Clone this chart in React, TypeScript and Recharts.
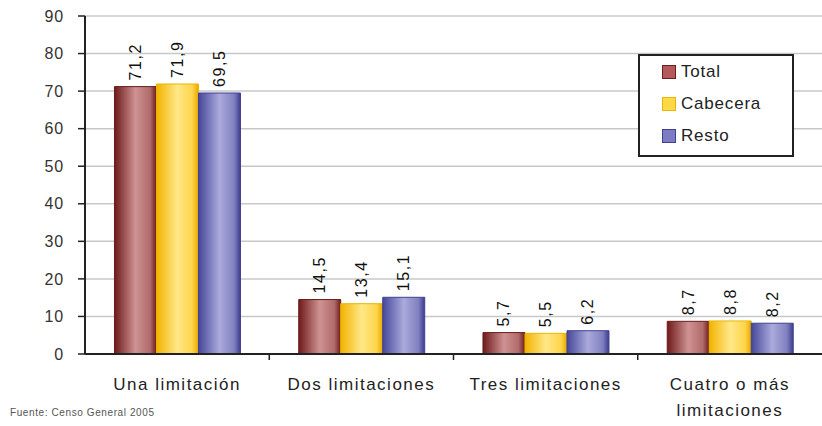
import React from "react";
import {
  BarChart,
  Bar,
  XAxis,
  YAxis,
  CartesianGrid,
  LabelList,
} from "recharts";

const categories = [
  "Una limitación",
  "Dos limitaciones",
  "Tres limitaciones",
  "Cuatro o más limitaciones",
];
const total = [71.2, 14.5, 5.7, 8.7];
const cabecera = [71.9, 13.4, 5.5, 8.8];
const resto = [69.5, 15.1, 6.2, 8.2];
const yTicks = [0, 10, 20, 30, 40, 50, 60, 70, 80, 90];

const series = [
  { key: "total", name: "Total", fill: "url(#gTotal)", swatch: "#b45a5a", stroke: "#6b1c1c" },
  { key: "cabecera", name: "Cabecera", fill: "url(#gCab)", swatch: "#ffd84a", stroke: "#e8b800" },
  { key: "resto", name: "Resto", fill: "url(#gResto)", swatch: "#7c7cc4", stroke: "#404090" },
];

const data = categories.map((name, i) => ({
  name,
  total: total[i],
  cabecera: cabecera[i],
  resto: resto[i],
}));

const font = "Arial, 'Liberation Sans', sans-serif";
const Y_W = 85;

const fmt = (v: number) => v.toFixed(1).replace(".", ",");

// split long category names on words, ~17 chars a line
const wrap = (s: string, max = 17) => {
  const lines: string[] = [];
  let cur = "";
  s.split(" ").forEach((w) => {
    const next = cur ? cur + " " + w : w;
    if (next.length > max && cur) {
      lines.push(cur);
      cur = w;
    } else cur = next;
  });
  if (cur) lines.push(cur);
  return lines;
};

const BarLabel = (props: any) => {
  const { x, y, width, value } = props;
  const cx = x + width / 2;
  const cy = y - 6;
  return (
    <text
      x={cx}
      y={cy}
      transform={`rotate(-90 ${cx} ${cy})`}
      textAnchor="start"
      dominantBaseline="central"
      fontSize={16}
      letterSpacing={1.6}
      fontFamily={font}
      fill="#111"
    >
      {fmt(value)}
    </text>
  );
};

// category label + the little separator mark at the right edge of its band
const CatTick = (props: any) => {
  const { x, y, payload, index, visibleTicksCount } = props;
  const band = (x - Y_W) / (index + 0.5);
  const sepX = x + band / 2;
  return (
    <g>
      {index < visibleTicksCount - 1 && (
        <line x1={sepX} x2={sepX} y1={y} y2={y + 6} stroke="#222" strokeWidth={1.5} />
      )}
      <text
        x={x}
        y={y + 36}
        textAnchor="middle"
        fontSize={17}
        letterSpacing={1.5}
        fontFamily={font}
        fill="#222"
      >
        {wrap(payload.value).map((l, i) => (
          <tspan key={i} x={x} dy={i === 0 ? 0 : 26}>
            {l}
          </tspan>
        ))}
      </text>
    </g>
  );
};

export default function App() {
  return (
    <div style={{ position: "absolute", left: 0, top: 0, width: 822, height: 426, background: "#fff" }}>
      <BarChart
        width={822}
        height={426}
        data={data}
        margin={{ top: 16, right: 0, left: 0, bottom: 0 }}
        barCategoryGap="16%"
        barGap={0}
      >
        <defs>
          <linearGradient id="gTotal" x1="0" y1="0" x2="1" y2="0">
            <stop offset="0" stopColor="#6e1a1a" />
            <stop offset="0.5" stopColor="#cf9292" />
            <stop offset="0.85" stopColor="#b06a6a" />
            <stop offset="1" stopColor="#6e1a1a" />
          </linearGradient>
          <linearGradient id="gCab" x1="0" y1="0" x2="1" y2="0">
            <stop offset="0" stopColor="#f2b300" />
            <stop offset="0.5" stopColor="#ffe888" />
            <stop offset="0.85" stopColor="#ffd54a" />
            <stop offset="1" stopColor="#e8a800" />
          </linearGradient>
          <linearGradient id="gResto" x1="0" y1="0" x2="1" y2="0">
            <stop offset="0" stopColor="#46469a" />
            <stop offset="0.5" stopColor="#aaaadc" />
            <stop offset="0.85" stopColor="#8080c0" />
            <stop offset="1" stopColor="#3c3c8c" />
          </linearGradient>
        </defs>
        <CartesianGrid vertical={false} stroke="#c8c8c8" strokeWidth={1.5} />
        <XAxis
          dataKey="name"
          interval={0}
          tick={<CatTick />}
          tickLine={false}
          tickSize={0}
          tickMargin={0}
          height={72}
          axisLine={{ stroke: "#222", strokeWidth: 2 }}
        />
        <YAxis
          width={Y_W}
          domain={[0, 90]}
          ticks={yTicks}
          interval={0}
          tickSize={7}
          tickMargin={14}
          tickLine={{ stroke: "#222", strokeWidth: 1.5 }}
          axisLine={{ stroke: "#222", strokeWidth: 2 }}
          tick={{ fontSize: 16, fontFamily: font, fill: "#333", letterSpacing: 0.8 }}
        />
        {series.map((s) => (
          <Bar
            key={s.key}
            dataKey={s.key}
            name={s.name}
            fill={s.fill}
            stroke={s.stroke}
            strokeWidth={1}
            isAnimationActive={false}
          >
            <LabelList dataKey={s.key} content={<BarLabel />} />
          </Bar>
        ))}
      </BarChart>
      <div
        style={{
          position: "absolute",
          left: 638,
          top: 54,
          width: 156,
          height: 103,
          border: "2px solid #222",
          background: "#fff",
          boxSizing: "border-box",
          paddingTop: 0,
          fontFamily: font,
          fontSize: 17,
          letterSpacing: 0.8,
          color: "#222",
        }}
      >
        {series.map((s) => (
          <div
            key={s.key}
            style={{ display: "flex", alignItems: "center", height: 32, paddingLeft: 22 }}
          >
            <span
              style={{
                width: 12,
                height: 12,
                background: s.swatch,
                border: `1px solid ${s.stroke}`,
                marginRight: 5,
                display: "inline-block",
              }}
            />
            {s.name}
          </div>
        ))}
      </div>
      <div
        style={{
          position: "absolute",
          left: 10,
          top: 407,
          fontFamily: font,
          fontSize: 10,
          color: "#555",
          letterSpacing: 0.6,
        }}
      >
        Fuente: Censo General 2005
      </div>
    </div>
  );
}
